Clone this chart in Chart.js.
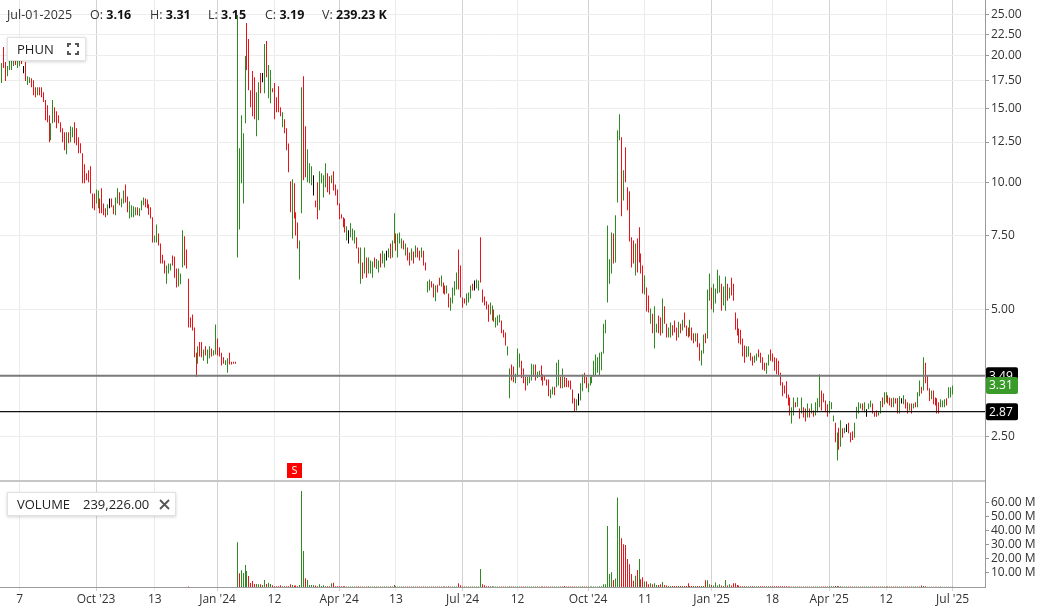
<!DOCTYPE html>
<html><head><meta charset="utf-8">
<script src="https://cdn.jsdelivr.net/npm/chart.js@4.4.0/dist/chart.umd.min.js"></script>
<style>
html,body{margin:0;padding:0;background:#fff;overflow:hidden}
#wrap{position:relative;width:1042px;height:607px;font-family:"Open Sans","Noto Sans",sans-serif}
canvas{display:block}
.t{position:absolute;top:6px;font-size:12.5px;color:#333;white-space:nowrap;line-height:17px}
.t b{color:#111;font-weight:700}
.box{position:absolute;background:#fff;border:1px solid #e2e2e2;box-shadow:0 1px 3px rgba(0,0,0,.18);box-sizing:border-box;font-size:13px;color:#222}
.box span{position:absolute;top:2px;line-height:18px;white-space:nowrap}
</style></head>
<body><div id="wrap">
<canvas id="c" width="1042" height="607"></canvas>
<div class="t" style="left:7px">Jul-01-2025</div>
<div class="t" style="left:90px">O: <b>3.16</b></div>
<div class="t" style="left:150px">H: <b>3.31</b></div>
<div class="t" style="left:208px">L: <b>3.15</b></div>
<div class="t" style="left:265px">C: <b>3.19</b></div>
<div class="t" style="left:322px">V: <b>239.23 K</b></div>
<div class="box" style="left:7px;top:37px;width:79px;height:24px">
 <span style="left:9px">PHUN</span>
 <svg style="position:absolute;left:59px;top:5px" width="12" height="12" viewBox="0 0 12 12" fill="none" stroke="#555" stroke-width="2">
  <path d="M1 4V1H4M8 1H11V4M11 8V11H8M4 11H1V8"/></svg>
</div>
<div class="box" style="left:7px;top:492px;width:169px;height:24px">
 <span style="left:9px">VOLUME</span>
 <span style="left:75px">239,226.00</span>
 <svg style="position:absolute;left:151px;top:6px" width="11" height="11" viewBox="0 0 11 11" stroke="#555" stroke-width="1.8">
  <path d="M1 1L10 10M10 1L1 10"/></svg>
</div>
</div>
<script>
// ---------------- data ----------------
const HIGH = [
19.23,20.99,19.34,18.92,19.55,20.09,20.42,20.65,20.09,19.8,
19.44,18.92,19.34,17.9,17.8,17.71,17.52,16.86,16.86,16.86,
16.86,16.41,15.71,15.28,14.47,13.85,15.71,15.11,14.79,14.47,
13.93,13.48,13.19,13.19,13.19,13.63,13.55,13.93,13.48,12.83,
12.41,11.76,11.07,10.54,10.71,10.95,9.44,9.44,9.65,9.6,
9.19,9.71,8.94,8.71,8.9,9.19,9.19,8.85,9.24,9.71,
9.5,9.19,9.6,9.92,9.29,9.04,8.85,8.8,8.76,8.76,
8.71,9.09,9.24,9.19,9.14,8.9,8.76,8.29,7.51,7.97,
7.59,7.18,6.76,6.55,6.37,6.44,6.44,6.73,6.69,6.27,
6.27,6.1,7.72,7.47,6.95,5.93,4.8,4.88,4.54,3.96,
4.1,4.2,4.2,4.03,4.1,4.03,4.1,4.05,4.01,4.62,
4.28,4.08,3.96,3.86,3.8,3.84,3.96,3.77,3.77,3.77,
25.0,12.08,14.47,13.12,19.98,23.93,21.93,16.59,18.41,17.80,
16.41,17.33,18.21,18.21,21.34,21.69,19.02,18.51,16.77,17.24,
15.96,16.95,15.11,14.71,14.16,13.48,12.40,10.09,10.20,9.98,
8.52,8.06,7.30,16.86,17.90,13.63,12.02,11.13,10.95,10.42,
9.09,10.03,10.65,10.54,10.42,11.13,10.54,10.37,10.42,10.65,
9.92,9.65,8.94,8.43,8.29,8.24,7.89,7.72,8.02,7.80,
7.72,7.43,7.03,7.03,6.48,7.03,6.66,6.66,6.55,6.51,
6.66,6.60,6.55,6.80,6.91,6.80,6.91,6.99,7.18,7.30,
8.47,7.59,7.59,7.63,7.38,7.30,7.18,7.03,6.84,6.99,
6.88,7.11,7.03,6.91,7.03,6.91,6.48,
5.85,5.90,5.85,5.77,5.71,5.74,5.96,6.03,5.81,5.71,
5.71,5.47,5.35,5.65,5.85,6.13,6.95,6.37,5.35,5.32,
5.47,5.50,5.71,5.77,5.87,5.90,5.87,7.43,5.59,5.38,
5.24,5.15,5.21,5.12,5.01,4.80,4.85,4.88,4.72,4.49,
4.42,4.10,3.63,3.71,3.67,3.53,4.05,3.94,3.79,3.63,
3.47,3.47,3.48,
3.73,3.71,3.71,3.57,3.59,3.69,3.52,3.50,3.42,3.42,
3.24,3.29,3.29,3.75,3.81,3.47,3.63,3.47,3.45,3.40,
3.40,3.24,3.09,3.07,3.17,3.35,3.52,3.55,3.47,3.35,
3.47,3.48,3.79,3.92,3.86,3.96,3.98,4.64,4.74,7.93,
6.59,7.63,7.59,8.38,13.33,14.55,12.83,10.71,12.15,9.76,
9.55,7.43,7.30,7.18,7.38,7.85,6.80,6.37,6.03,5.65,
5.41,5.04,4.90,5.10,4.64,4.85,4.80,5.32,5.10,4.64,
4.54,4.67,4.60,4.72,4.54,4.69,4.64,4.74,4.93,4.59,
4.54,4.74,4.54,4.40,4.40,4.40,4.17,4.01,4.37,4.40,
5.59,6.10,5.65,5.77,5.62,6.23,6.03,5.77,5.68,6.00,
5.77,5.65,
5.96,5.77,4.93,4.77,4.52,4.49,4.28,4.12,4.10,4.10,
3.96,3.88,3.90,3.94,4.03,3.96,3.86,3.75,3.75,3.92,
4.03,3.94,3.86,3.84,3.79,3.55,3.37,3.31,3.39,3.15,
3.10,2.94,3.10,3.02,3.10,2.92,3.10,2.94,2.92,3.00,
2.92,3.00,2.89,3.02,3.09,3.52,3.22,3.17,3.05,2.99,
3.04,3.02,2.81,2.70,2.56,2.63,2.74,2.62,2.63,2.68,
2.70,2.56,2.58,2.70,2.95,3.02,3.00,3.00,3.02,2.91,
3.00,3.05,3.00,2.86,2.89,2.86,3.04,3.10,3.19,3.19,
3.14,3.10,3.09,3.10,3.09,3.09,3.12,3.09,3.14,3.07,
3.02,3.00,3.00,3.00,3.02,3.19,3.40,3.29,3.86,3.75,
3.50,3.26,3.22,3.22,3.10,3.09,3.02,3.07,3.05,3.07,
3.09,3.28,3.28,3.31
];
const LOW = [
17.24,18.71,17.43,17.9,18.51,18.51,18.92,19.02,18.71,18.9,
19.13,18.2,17.43,17.05,17.24,16.86,16.14,15.96,16.14,16.14,
15.96,15.54,14.08,13.93,12.48,12.62,13.85,13.93,13.48,13.85,
13.19,12.48,11.95,11.7,12.41,12.48,12.83,12.41,12.28,11.76,
11.76,9.98,9.98,10.14,10.03,9.44,8.71,8.61,8.94,8.71,
8.47,8.47,8.38,8.29,8.38,8.71,8.76,8.43,8.38,8.94,
8.85,8.76,8.94,8.99,8.52,8.24,8.29,8.29,8.38,8.38,
8.34,8.61,8.85,8.76,8.71,8.4,8.24,7.22,7.22,7.22,
7.11,6.44,6.44,6.1,5.77,6.1,6.2,6.37,5.96,5.65,
5.68,5.75,6.3,6.37,6.27,4.54,4.54,4.47,3.86,3.47,
3.73,3.88,3.86,3.79,3.9,3.73,3.84,3.88,3.9,3.92,
3.9,3.88,3.69,3.73,3.7,3.55,3.71,3.71,3.73,3.73,
6.66,7.76,9.98,8.94,13.85,18.51,16.59,15.11,14.39,14.16,
12.90,14.08,16.32,17.33,16.32,17.80,15.88,15.45,16.41,14.16,
14.71,14.71,14.39,13.55,13.12,11.95,10.60,8.52,7.38,8.24,
7.51,6.99,5.90,8.47,10.14,10.31,10.03,9.98,9.87,9.34,
8.76,8.20,8.61,9.98,9.24,9.76,9.50,9.39,9.98,9.60,
9.34,8.85,8.20,8.24,7.85,7.63,7.30,7.18,7.43,7.30,
7.18,6.99,6.44,5.77,5.93,6.10,5.96,6.10,6.10,5.96,
6.30,6.25,6.13,6.30,6.44,6.30,6.55,6.66,6.62,6.66,
7.18,6.91,6.66,7.18,6.99,6.95,6.73,6.55,6.37,6.55,
6.44,6.66,6.66,6.55,6.66,6.37,6.20,
5.50,5.56,5.65,5.35,5.24,5.50,5.71,5.68,5.47,5.44,
5.47,5.07,4.98,5.18,5.41,5.59,5.59,5.35,5.07,5.18,
5.12,5.21,5.32,5.56,5.56,5.62,5.56,5.81,5.21,5.12,
5.01,4.69,4.88,4.72,4.69,4.54,4.59,4.67,4.40,4.30,
4.12,3.90,3.09,3.40,3.37,3.35,3.47,3.65,3.45,3.35,
3.22,3.31,3.35,
3.40,3.47,3.40,3.45,3.47,3.40,3.31,3.40,3.31,3.12,
3.09,3.15,3.14,3.28,3.31,3.26,3.26,3.28,3.28,3.28,
3.24,3.00,2.87,2.89,2.97,3.05,3.21,3.35,3.26,3.19,
3.31,3.35,3.47,3.50,3.55,3.50,3.60,3.94,4.40,5.21,
5.77,6.10,6.44,6.48,8.99,12.62,8.34,9.09,10.03,8.61,
7.26,6.30,6.44,6.03,6.13,6.48,6.10,5.47,5.44,4.96,
4.93,4.64,4.40,4.05,4.42,4.40,4.35,4.40,4.64,4.30,
4.30,4.30,4.35,4.42,4.23,4.30,4.40,4.47,4.54,4.33,
4.30,4.33,4.23,4.17,4.21,4.08,3.79,3.69,3.94,4.17,
4.28,5.26,5.01,4.93,5.18,5.47,5.50,4.98,5.12,4.98,
5.26,5.32,
5.41,5.26,4.49,4.35,4.17,4.14,3.88,3.75,3.86,3.88,
3.79,3.69,3.75,3.79,3.86,3.75,3.61,3.59,3.53,3.69,
3.79,3.77,3.59,3.52,3.50,3.31,3.12,3.17,3.09,2.97,
2.81,2.69,2.81,2.94,2.95,2.76,2.84,2.78,2.72,2.78,
2.78,2.84,2.79,2.81,2.86,2.94,2.89,3.02,2.86,2.79,
2.84,2.91,2.72,2.43,2.20,2.33,2.37,2.49,2.55,2.57,
2.55,2.43,2.46,2.49,2.76,2.84,2.92,2.89,2.86,2.79,
2.91,2.94,2.84,2.79,2.79,2.81,2.84,2.94,2.99,3.02,
3.00,2.97,2.94,2.94,3.00,2.84,2.84,3.00,2.99,2.92,
2.84,2.89,2.84,2.92,2.94,2.94,3.12,3.17,3.22,3.35,
3.22,3.04,3.07,2.99,2.97,2.84,2.84,2.94,2.94,2.94,
2.97,3.09,3.10,3.15
];
// bar direction: g = up, r = down, k = unchanged
const PRICE_DIR = (
"grrggggrgg"+"rkrggrrrgr"+"rrrrrggrrr"+"rrrgrggrrr"+"rrrrrrrrgg"+"rrrrgkrrgg"+
"rggrrggggr"+"gggrrrrrgg"+"rrrrgggrrr"+"gggrrrrrrr"+"grrgrggrgg"+"rrrrggrrrr"+
"gggggrrrrr"+"ggrkgrggrr"+"rrrgrrrrgr"+"rrggrrgggk"+"rrggggrrgr"+"rrrrrrgkgg"+
"grrgrgrggg"+"rggrggkgrg"+"grgggrgrrg"+"rgrrgrr"+
"ggrrgrrgrr"+"grggggrrrr"+"gggrkggrrr"+"rrggrgggrr"+"rggrrgggrr"+"rgg"+
"ggrggrrrrr"+"ggrggrgrrr"+"rrrgkggrrg"+"gggggggggg"+"ggrgggrgrr"+"rrrgrrrrgr"+
"rgrggrrgrr"+"ggrrrgrgrr"+"rgrrgrrggr"+"ggrggggrgg"+"rg"+
"rrrrrrrrgg"+"rrggrrrrgg"+"rrrrrrrrrr"+"rggrgrgrrg"+"rgrgggrrrr"+"gggrgrgrgk"+
"rrrggggrgk"+"ggrrrggrgg"+"rrrgrrgkgr"+"rgrgrggrgr"+"rrgrrrrggg"+"rggg").split("");
const VOL_DIR = (
"grrggggrgg"+"rkrggrrrgr"+"rrrrrggrrr"+"rrrgrggrrr"+"rrrrrrrrgg"+"rrrrgkrrgg"+
"rggrrggggr"+"gggrrrrrgg"+"rrrrgggrrr"+"gggrrrrrrr"+"grrgrggrgg"+"rrrrggrrrr"+
"grggggrrrr"+"ggrkgrggrr"+"rrrgrrrrgr"+"rrgggrgggk"+"rrggggrrgr"+"rrrrrrgkgg"+
"grrgrgrggg"+"rggrggkgrg"+"grgggrgrrg"+"rgrrgrr"+
"ggrrgrrgrr"+"grggggrrrr"+"gggrkgggrr"+"rrggrgggrr"+"rggrrgggrr"+"rgg"+
"ggrggrrrrr"+"ggrggrgrrr"+"rrrgkggrrg"+"gggggggggg"+"ggrgggrrrr"+"rrrgrgrrgr"+
"rgrggrrgrr"+"ggrrrgrgrr"+"rgrrgrrggr"+"ggrggggrgg"+"rg"+
"rrrrrrrrgg"+"rrggrrrrgg"+"rrrrrrrrrr"+"rggrgrgrrg"+"rgrgggrrrr"+"gggrgrgrgk"+
"rrrggggrgk"+"ggrrrggrgg"+"rrrgrrgkgr"+"rgrgrggrgr"+"rrgrrrrggg"+"rggg").split("");
// volume, millions of shares
const VOL = [
0.05,0.05,0.05,0.05,0.05,0.05,0.05,0.05,0.05,0.05,
0.05,0.05,0.05,0.05,0.05,0.05,0.05,0.05,0.05,0.05,
0.05,0.05,0.05,0.05,0.05,0.05,0.05,0.05,0.05,0.05,
0.05,0.05,0.05,0.05,0.05,0.05,0.05,0.05,0.05,0.05,
0.05,0.05,0.05,0.05,0.05,0.05,0.05,0.05,0.05,0.05,
0.05,0.05,0.05,0.05,0.05,0.05,0.05,0.05,0.05,0.05,
0.05,0.05,0.05,0.05,0.05,0.05,0.05,0.05,0.05,0.05,
0.05,0.05,0.05,0.05,0.05,0.05,0.05,0.05,0.05,0.05,
0.05,0.05,0.05,0.05,0.05,0.05,0.05,0.05,0.05,0.05,
0.05,0.05,0.05,0.05,0.05,0.4,0.05,0.05,0.05,0.05,
0.05,0.05,0.05,0.05,0.05,0.05,0.05,0.05,0.05,0.05,
0.05,0.05,0.05,0.05,0.05,0.05,0.05,0.05,0.05,0.05,
32,9.8,12,10,15.7,11.4,7.9,2.8,4.3,2.1,
2.1,1.9,1.9,1.4,5,2.1,3,2.1,1.2,0.5,
0.5,0.5,1.2,0.5,0.5,0.6,0.6,2,1.4,1,
1,0.5,1.4,68.6,25.7,6.2,5,1.4,1.4,1.2,
1,0.5,1.9,0.8,1.2,0.5,0.5,0.5,2.6,3,
0.5,0.5,0.5,0.5,0.5,0.5,0.3,0.3,0.3,0.3,
0.3,0.3,0.5,0.3,0.3,0.3,0.3,0.5,0.3,0.3,
0.3,0.3,0.3,0.3,0.3,0.3,0.3,0.3,0.6,0.3,
1.4,0.6,0.3,0.3,0.3,0.3,0.3,0.3,0.3,0.3,
0.3,0.3,0.3,0.3,0.3,0.3,0.3,0.3,0.3,0.3,
0.3,0.3,0.3,0.3,0.3,0.3,0.3,0.3,0.5,0.3,
0.3,0.3,0.3,2.6,1.2,0.3,0.3,0.3,0.3,0.3,
0.3,0.3,0.3,0.3,12.9,1.9,1.2,0.6,0.6,0.6,
0.6,0.3,0.3,0.3,0.3,0.3,0.3,0.3,0.3,0.5,
0.3,0.3,0.3,0.3,0.3,0.3,0.3,0.3,0.3,0.3,
0.3,0.3,0.3,0.3,0.3,0.3,0.3,0.3,0.3,0.3,
0.3,0.3,0.3,0.3,0.3,0.3,0.3,0.8,0.3,0.3,
0.3,0.3,0.3,0.3,0.3,0.3,0.5,0.3,0.3,0.3,
0.3,0.3,0.3,0.3,0.3,0.5,0.5,2,2,43.6,
9.3,10.5,5,6,64,43.6,34.8,30.5,30,20,
16.2,9.3,4.5,8,12.1,20,5.5,6.9,4,4,
2,2.6,2,2.6,1.5,1.5,2,3.6,1.5,1,
0.8,0.8,0.8,0.8,0.8,0.8,0.8,0.8,0.8,0.8,
2.6,0.8,0.8,0.8,0.8,0.8,0.8,0.8,0.8,4.8,
4.8,2,1.5,1,3.3,1,2,1,0.8,5,
1,2,1,2.6,2.6,1.5,1,0.6,0.6,0.6,
0.6,0.6,0.6,0.6,0.6,0.6,0.6,0.6,0.6,0.6,
0.6,0.6,0.6,0.6,0.6,0.6,0.6,0.6,0.6,0.6,
0.6,0.3,0.3,0.3,0.3,0.3,0.3,0.3,0.3,0.3,
0.3,0.3,0.3,0.3,0.3,0.3,0.3,0.3,0.3,0.3,
0.3,0.3,0.5,0.5,0.5,0.8,0.8,0.5,0.5,0.3,
0.3,0.3,0.3,0.3,0.3,0.3,0.3,0.3,0.3,0.3,
0.3,0.3,0.3,0.3,0.3,0.3,0.3,0.3,0.3,0.3,
0.3,0.3,0.3,0.3,0.3,0.3,0.3,0.3,0.3,0.3,
0.3,0.3,0.3,0.3,0.3,0.3,0.3,0.3,0.3,1,
0.8,0.5,0.2,0.2,0.2,0.2,0.2,0.2,0.2,0.4,
0.2,0.2,0.2,0.2,0.2,0.239
];
const XTICK_POS = [9,48,78,110,139,172,201,235,263,299,328,362,393,422,451,485];
const XTICK_LABELS = ["7","Oct '23","13","Jan '24","12","Apr '24","13","Jul '24","12","Oct '24","11","Jan '25","18","Apr '25","12","Jul '25"];
const PRICE_TICKS = [2.5,5,7.5,10,12.5,15,17.5,20,22.5,25];
const VOL_TICKS = [10,20,30,40,50,60];
const LEVELS = [3.49, 2.87];
const LAST_HIGH = 3.31;
const SIGNAL_POS = [149];
const SIGNAL_LABELS = ["S"];

// ---------------- chart ----------------
const X_MIN = -1, X_MAX = 501.5;
const Y_MIN = 1.966, Y_MAX = 27.13, V_MAX = 75.7;
const COLORS = {g:'#2e8b22', r:'#e8141a', k:'#000000'};
const FONT = {family:'"Open Sans","Noto Sans",sans-serif', size:12};

const datasets = [
  {type:'bar', xAxisID:'x', yAxisID:'y', order:3,
   data: HIGH.map((h,i)=>({x:i, y:[LOW[i], h]})),
   backgroundColor: PRICE_DIR.map(c=>COLORS[c]),
   barThickness:1, grouped:false, borderWidth:0, inflateAmount:0},
  {type:'bar', xAxisID:'x', yAxisID:'yv', order:3,
   data: VOL.map((v,i)=>({x:i, y:v})),
   backgroundColor: VOL_DIR.map(c=>COLORS[c==='k'?'g':c]),
   barThickness:1, grouped:false, borderWidth:0, inflateAmount:0}
];
LEVELS.forEach((v,k)=>datasets.push({
  type:'line', xAxisID:'x', yAxisID:'y', order:1,
  data:[{x:X_MIN,y:v},{x:X_MAX,y:v}],
  borderColor: k===0 ? '#7a7a7a' : '#111111', borderWidth: k===0 ? 2 : 1.3,
  pointRadius:0, fill:false
}));

function roundRect(ctx,x,y,w,h,r){
  ctx.beginPath();
  ctx.moveTo(x+r,y);ctx.lineTo(x+w-r,y);ctx.quadraticCurveTo(x+w,y,x+w,y+r);
  ctx.lineTo(x+w,y+h-r);ctx.quadraticCurveTo(x+w,y+h,x+w-r,y+h);
  ctx.lineTo(x+r,y+h);ctx.quadraticCurveTo(x,y+h,x,y+h-r);
  ctx.lineTo(x,y+r);ctx.quadraticCurveTo(x,y,x+r,y);ctx.closePath();
}
// snap the 1px bars of the library's bar elements to whole pixel columns
const crispBars = {
  id:'crispBars',
  beforeDatasetDraw(chart, args){
    const meta = args.meta;
    if (meta.type !== 'bar') return;
    meta.data.forEach(el => { el.x = Math.floor(el.x) + 0.5; });
  }
};
const overlay = {
  id:'overlay',
  afterDatasetsDraw(chart){
    const ctx = chart.ctx, a = chart.chartArea, ys = chart.scales.y, xs = chart.scales.x;
    ctx.save();
    ctx.strokeStyle = '#c6c6c6'; ctx.lineWidth = 2;
    ctx.beginPath(); ctx.moveTo(a.left, ys.bottom); ctx.lineTo(a.right, ys.bottom); ctx.stroke();
    SIGNAL_POS.forEach((p,k)=>{
      const x = Math.round(xs.getPixelForValue(p));
      const b = ys.bottom - 3;
      ctx.fillStyle = '#ff0000'; ctx.fillRect(x-7, b-15, 15, 15);
      ctx.fillStyle = '#fff'; ctx.font = '11px "Open Sans",sans-serif';
      ctx.textAlign = 'center'; ctx.textBaseline = 'middle';
      ctx.fillText(SIGNAL_LABELS[k], x+0.5, b-7);
    });
    ctx.restore();
  },
  afterDraw(chart){
    const ctx = chart.ctx, a = chart.chartArea, ys = chart.scales.y;
    const tag = (v, bg) => {
      const y = ys.getPixelForValue(v), x = a.right + 1, w = 32, h = 17;
      ctx.fillStyle = bg; roundRect(ctx, x, y-h/2, w, h, 2); ctx.fill();
      ctx.fillStyle = '#fff'; ctx.font = '12px "Open Sans",sans-serif';
      ctx.textAlign = 'left'; ctx.textBaseline = 'middle';
      ctx.fillText(v.toFixed(2), x+3, y+0.5);
    };
    ctx.save();
    LEVELS.forEach(v=>tag(v, '#000'));
    tag(LAST_HIGH, '#3a9a2a');
    ctx.restore();
  }
};

new Chart(document.getElementById('c'), {
  type:'bar',
  data:{datasets},
  options:{
    responsive:false, animation:false, devicePixelRatio:1,
    layout:{padding:0},
    plugins:{legend:{display:false}, tooltip:{enabled:false}},
    scales:{
      x:{type:'linear', min:X_MIN, max:X_MAX, offset:false,
        grid:{offset:false, tickLength:4,
          color:c=>{const k=XTICK_POS.indexOf(c.tick&&c.tick.value);return k>=0&&XTICK_LABELS[k].includes("'")?'#d2d2d2':'#ebebeb';}},
        border:{display:true, color:'#9a9a9a'},
        ticks:{autoSkip:false, maxRotation:0, minRotation:0, padding:1, color:'#333', font:FONT,
          callback:v=>{const k=XTICK_POS.indexOf(v);return k<0?'':XTICK_LABELS[k];}},
        afterBuildTicks:s=>{s.ticks = XTICK_POS.map(v=>({value:v}));},
        afterFit:s=>{s.height=20; s.paddingLeft=0; s.paddingRight=0;}
      },
      y:{type:'logarithmic', position:'right', stack:'main', stackWeight:481, min:Y_MIN, max:Y_MAX,
        grid:{color:'#ededed', tickColor:'#9a9a9a', tickLength:4},
        border:{display:true, color:'#9a9a9a'},
        ticks:{autoSkip:false, padding:2, color:'#333', font:FONT, callback:v=>Number(v).toFixed(2)},
        afterBuildTicks:s=>{s.ticks = PRICE_TICKS.map(v=>({value:v}));},
        afterFit:s=>{s.width=57; s.paddingTop=0; s.paddingBottom=0;}
      },
      yv:{type:'linear', position:'right', stack:'main', stackWeight:106, min:0, max:V_MAX,
        grid:{color:'rgba(0,0,0,0)', tickColor:'#9a9a9a', tickLength:4},
        border:{display:true, color:'#9a9a9a'},
        ticks:{autoSkip:false, padding:2, color:'#333', font:FONT, callback:v=>Number(v).toFixed(2)+' M'},
        afterBuildTicks:s=>{s.ticks = VOL_TICKS.map(v=>({value:v}));},
        afterFit:s=>{s.width=57; s.paddingTop=0; s.paddingBottom=0;}
      }
    }
  },
  plugins:[crispBars, overlay]
});
</script>
</body></html>
